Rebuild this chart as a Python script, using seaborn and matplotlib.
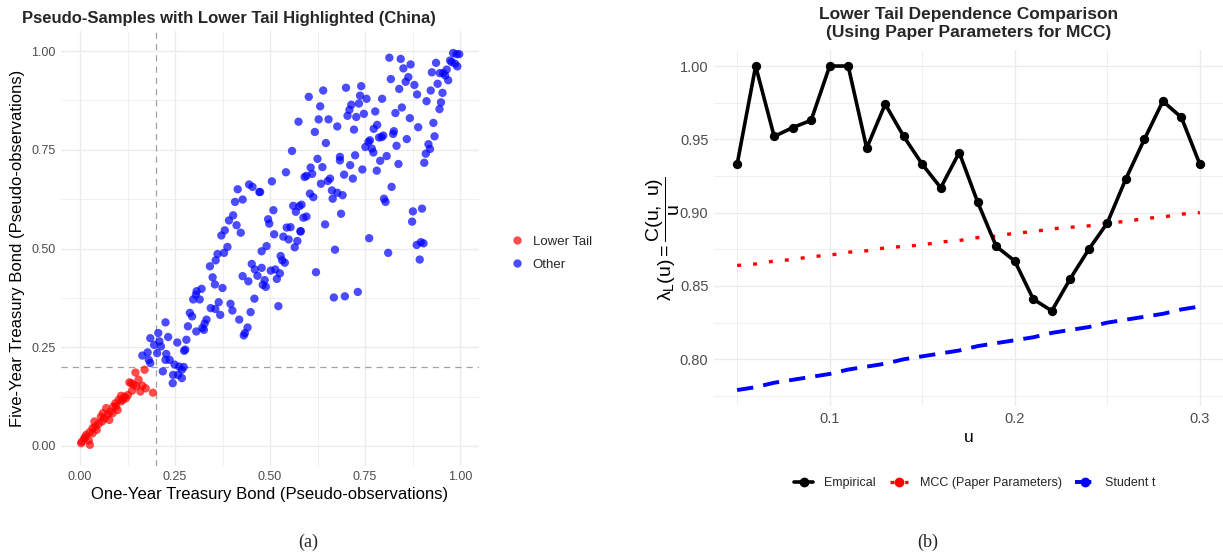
import numpy as np
import pandas as pd
import matplotlib
matplotlib.use("Agg")
import matplotlib.pyplot as plt
import seaborn as sns
from matplotlib.lines import Line2D
from matplotlib.ticker import MultipleLocator, FormatStrFormatter

# ---------------- data: left panel (pseudo-observations) ----------------
# upper band (u > 0.47, v > 0.54)
upper_u = [0.982,0.991,0.998,0.974,0.978,0.993,0.987,0.965,0.956,0.947,0.969,0.961,0.937,0.926,0.941,0.954,0.923,0.950,0.946,0.912,0.930,0.933,0.917,0.921,0.910,0.906,
           0.814,0.844,0.870,0.851,0.864,0.857,0.880,0.818,0.840,0.887,0.847,0.830,0.868,0.890,0.860,0.833,0.838,0.807,0.820,0.800,0.804,0.876,0.900,0.874]
upper_v = [0.995,0.992,0.992,0.976,0.972,0.961,0.968,0.953,0.944,0.944,0.926,0.938,0.970,0.946,0.917,0.894,0.900,0.870,0.853,0.873,0.818,0.784,0.764,0.752,0.740,0.717,
           0.983,0.980,0.966,0.956,0.934,0.922,0.914,0.929,0.904,0.890,0.857,0.843,0.830,0.807,0.777,0.760,0.714,0.734,0.656,0.626,0.618,0.594,0.601,0.568]
mid_u = [0.740,0.737,0.754,0.734,0.714,0.709,0.704,0.727,0.747,0.777,0.795,0.700,0.640,0.602,0.632,0.628,0.654,0.575,0.618,0.677,
         0.721,0.773,0.782,0.794,0.787,0.826,0.824,0.798,0.763,0.759,0.751,0.768,0.772,0.724,0.684,0.684,0.711,0.743,0.781,0.790,
         0.647,0.558,0.625,0.638,0.607,0.611,0.596,0.591,0.542,0.505,0.634,0.658,0.652,0.695,0.718,0.663,0.677,0.691,0.665,0.605,
         0.614,0.474,0.561,0.583,0.577,0.568,0.509,0.495,0.498,0.588,0.596,0.687,0.645,0.544,0.554,0.581]
mid_v = [0.911,0.887,0.879,0.867,0.864,0.851,0.836,0.833,0.841,0.847,0.879,0.907,0.900,0.884,0.860,0.827,0.827,0.821,0.795,0.809,
         0.801,0.803,0.813,0.782,0.781,0.797,0.790,0.786,0.774,0.770,0.757,0.753,0.743,0.736,0.732,0.723,0.711,0.700,0.697,0.722,
         0.767,0.747,0.727,0.706,0.705,0.689,0.684,0.681,0.693,0.670,0.664,0.677,0.671,0.687,0.677,0.647,0.641,0.635,0.626,0.639,
         0.630,0.643,0.608,0.611,0.607,0.593,0.597,0.574,0.563,0.578,0.581,0.588,0.561,0.553,0.554,0.544]
right_u = [0.511,0.535,0.549,0.572,0.580,0.565,0.491,0.478,0.528,0.532,0.539,0.478,0.502,0.514,0.526,0.518,0.486,0.481,0.489,0.522,
           0.621,0.671,0.761,0.811,0.886,0.897,0.904,0.894,0.668,0.697,0.731,
           0.415,0.445,0.454,0.472,0.408,0.428,0.403,0.392,0.412,0.381]
right_v = [0.536,0.530,0.523,0.519,0.543,0.503,0.506,0.493,0.481,0.470,0.464,0.451,0.444,0.447,0.437,0.423,0.420,0.408,0.403,0.354,
           0.440,0.497,0.526,0.489,0.509,0.516,0.513,0.472,0.376,0.379,0.390,
           0.650,0.662,0.656,0.643,0.618,0.624,0.584,0.571,0.559,0.546]
low_u = [0.423,0.372,0.388,0.362,0.379,0.357,0.342,0.452,0.460,0.467,0.428,0.443,0.349,0.355,0.375,0.320,0.307,0.305,0.298,0.315,
         0.459,0.365,0.396,0.401,0.344,0.356,0.369,0.449,0.419,0.289,0.295,0.333,0.328,0.322,0.326,0.284,0.306,0.441,0.434,0.431,
         0.225,0.206,0.185,0.195,0.209,0.213,0.232,0.256,0.280,0.277,0.274,0.164,0.178,0.203,0.227,0.225,0.236,0.249,0.185,0.181,
         0.261,0.273,0.268,0.218,0.245,0.258,0.268,0.244]
low_v = [0.540,0.533,0.504,0.486,0.489,0.470,0.455,0.461,0.447,0.431,0.430,0.417,0.427,0.409,0.400,0.398,0.392,0.383,0.371,0.371,
         0.373,0.364,0.360,0.343,0.349,0.347,0.332,0.339,0.320,0.337,0.328,0.320,0.310,0.299,0.294,0.303,0.290,0.300,0.286,0.280,
         0.313,0.286,0.273,0.256,0.265,0.252,0.276,0.262,0.269,0.244,0.241,0.229,0.237,0.235,0.233,0.218,0.218,0.206,0.210,0.218,
         0.201,0.200,0.193,0.189,0.180,0.180,0.172,0.159]
tail_u = [0.170,0.146,0.154,0.130,0.141,0.164,0.173,0.159,0.192,0.137,0.126,0.117,0.108,0.102,0.093,0.088,0.099,0.079,0.073,0.077,
          0.064,0.058,0.049,0.038,0.033,0.044,0.025,0.016,0.011,0.005,0.003,0.026,0.023,0.069,0.086,0.113,0.121,0.148,0.135,0.055,
          0.040,0.060,0.095,0.108,0.014,0.033]
tail_v = [0.193,0.186,0.168,0.161,0.155,0.153,0.146,0.138,0.135,0.140,0.129,0.125,0.127,0.117,0.108,0.100,0.091,0.087,0.079,0.066,
          0.070,0.062,0.056,0.062,0.045,0.041,0.035,0.028,0.019,0.011,0.007,0.003,0.014,0.096,0.083,0.117,0.121,0.151,0.159,0.074,
          0.049,0.083,0.100,0.113,0.022,0.032]
threshold = 0.2

# ---------------- data: right panel ----------------
u_grid = [0.05,0.06,0.07,0.08,0.09,0.10,0.11,0.12,0.13,0.14,0.15,0.16,0.17,0.18,0.19,0.20,0.21,0.22,0.23,0.24,0.25,0.26,0.27,0.28,0.29,0.30]
empirical = [0.933,1.000,0.952,0.958,0.963,1.000,1.000,0.944,0.974,0.952,0.933,0.917,0.941,0.907,0.877,0.867,0.841,0.833,0.855,0.875,0.893,0.923,0.950,0.976,0.965,0.933]
mcc_paper = [0.864,0.865,0.867,0.868,0.870,0.871,0.873,0.874,0.876,0.877,0.878,0.880,0.881,0.883,0.884,0.886,0.887,0.889,0.890,0.891,0.893,0.894,0.896,0.897,0.899,0.900]
student_t = [0.779,0.781,0.784,0.786,0.788,0.790,0.793,0.795,0.797,0.800,0.802,0.804,0.806,0.809,0.811,0.813,0.815,0.818,0.820,0.822,0.825,0.827,0.829,0.831,0.834,0.836]

other_u = upper_u + mid_u + right_u + low_u
other_v = upper_v + mid_v + right_v + low_v
pts = pd.DataFrame({
    "u": tail_u + other_u,
    "v": tail_v + other_v,
    "group": ["Lower Tail"] * len(tail_u) + ["Other"] * len(other_u),
})
lam = pd.DataFrame({"u": u_grid, "Empirical": empirical,
                    "MCC (Paper Parameters)": mcc_paper, "Student t": student_t})

# ---------------- styling ----------------
sns.set_theme(style="white")
plt.rcParams['font.family'] = ['Liberation Sans', 'DejaVu Sans']
plt.rcParams['mathtext.fontset'] = 'custom'
plt.rcParams['mathtext.rm'] = 'Liberation Sans'
plt.rcParams['mathtext.it'] = 'Liberation Sans'
plt.rcParams['mathtext.bf'] = 'Liberation Sans:bold'

W, H = 1223, 557
fig = plt.figure(figsize=(W / 100, H / 100), dpi=100)

def pos(l, t, r, b):
    return [l / W, 1 - b / H, (r - l) / W, (b - t) / H]

ax1 = fig.add_axes(pos(61, 31.25, 479, 465.75))
ax2 = fig.add_axes(pos(714, 49.9, 1223, 406.2))

GRID = '#EBEBEB'
def style(ax, lsize):
    for s in ax.spines.values():
        s.set_visible(False)
    ax.set_facecolor('white')
    ax.grid(which='major', color=GRID, lw=1.0)
    ax.grid(which='minor', color=GRID, lw=0.55)
    ax.tick_params(which='both', length=0, labelsize=lsize, labelcolor='#4D4D4D', pad=4)
    ax.set_axisbelow(True)

# ---------------- left panel ----------------
sns.scatterplot(data=pts, x="u", y="v", hue="group",
                palette={"Lower Tail": "#FF0000", "Other": "#0000FF"},
                s=36, alpha=0.7, linewidth=0, legend=False, ax=ax1, zorder=3)
ax1.axvline(threshold, color='#A0A0A0', lw=0.9, ls=(0, (5, 4)), zorder=2)
ax1.axhline(threshold, color='#A0A0A0', lw=0.9, ls=(0, (5, 4)), zorder=2)
ax1.set_xlim(-0.05, 1.05)
ax1.set_ylim(-0.05, 1.05)
for axis in (ax1.xaxis, ax1.yaxis):
    axis.set_major_locator(MultipleLocator(0.25))
    axis.set_minor_locator(MultipleLocator(0.125))
    axis.set_major_formatter(FormatStrFormatter('%.2f'))
style(ax1, 9)
ax1.set_xlabel("One-Year Treasury Bond (Pseudo-observations)", fontsize=12, color='black')
ax1.set_ylabel("Five-Year Treasury Bond (Pseudo-observations)", fontsize=12, color='black')
ax1.xaxis.label.set_va('center')
ax1.yaxis.label.set_va('center')
ax1.xaxis.set_label_coords(0.5, -(495 - 465.75) / 434.5)
ax1.yaxis.set_label_coords((18 - 61) / 418, 0.5)

fig.text(22 / W, 1 - 18 / H, "Pseudo-Samples with Lower Tail Highlighted (China)",
         fontsize=12, fontweight='bold', ha='left', va='center')

leg_handles = [Line2D([], [], marker='o', ls='', color='#FF0000', alpha=0.7, markersize=6, markeredgewidth=0),
               Line2D([], [], marker='o', ls='', color='#0000FF', alpha=0.7, markersize=6, markeredgewidth=0)]
fig.legend(leg_handles, ["Lower Tail", "Other"], loc='center left',
           bbox_to_anchor=(497 / W, 1 - 253 / H), frameon=False, fontsize=9.5,
           handlelength=1.2, handletextpad=0.6, labelspacing=0.8)

# ---------------- right panel ----------------
sns.lineplot(data=lam, x="u", y="Empirical", color='black', lw=2.6, ax=ax2, zorder=4)
sns.scatterplot(data=lam, x="u", y="Empirical", color='black', s=45, linewidth=0, ax=ax2, zorder=5)
sns.lineplot(data=lam, x="u", y="MCC (Paper Parameters)", color='#FF0000', lw=2.4,
             linestyle=(0, (1.2, 3.6)), ax=ax2, zorder=3)
sns.lineplot(data=lam, x="u", y="Student t", color='#0000FF', lw=2.8,
             linestyle=(0, (4.2, 2.6)), ax=ax2, zorder=3)
ax2.set_xlim(0.0375, 0.3125)
ax2.set_ylim(0.768, 1.011)
ax2.xaxis.set_major_locator(MultipleLocator(0.1))
ax2.xaxis.set_minor_locator(MultipleLocator(0.05))
ax2.xaxis.set_major_formatter(FormatStrFormatter('%.1f'))
ax2.yaxis.set_major_locator(MultipleLocator(0.05))
ax2.yaxis.set_minor_locator(MultipleLocator(0.025))
ax2.yaxis.set_major_formatter(FormatStrFormatter('%.2f'))
style(ax2, 10.5)
ax2.set_xlabel("u", fontsize=12.5, color='black')
ax2.set_ylabel(r"$\lambda_{\mathrm{L}}(u) = \dfrac{C(u,\ u)}{u}$", fontsize=14, color='black')
ax2.xaxis.label.set_va('center')
ax2.yaxis.label.set_va('center')
ax2.xaxis.set_label_coords(0.5, -(437 - 406.2) / 356.3)
ax2.yaxis.set_label_coords((663 - 714) / 509, 0.47)

fig.text(968.5 / W, 1 - 23.5 / H,
         "Lower Tail Dependence Comparison\n(Using Paper Parameters for MCC)",
         fontsize=12.5, fontweight='bold', ha='center', va='center', linespacing=1.2)

r_handles = [Line2D([], [], color='black', lw=2.6, marker='o', markersize=6),
             Line2D([], [], color='#FF0000', lw=2.4, ls=(0, (1.2, 1.0)), marker='o', markersize=6),
             Line2D([], [], color='#0000FF', lw=2.8, ls=(0, (4.2, 2.6)), marker='o', markersize=6)]
fig.legend(r_handles, ["Empirical", "MCC (Paper Parameters)", "Student t"], loc='center',
           bbox_to_anchor=(975 / W, 1 - 483 / H), ncol=3, frameon=False, fontsize=9,
           handlelength=1.5, handletextpad=0.9, columnspacing=1.1)

fig.text(308 / W, 1 - 542 / H, "(a)", family=['Liberation Serif', 'DejaVu Serif'],
         fontsize=13, ha='center', va='center')
fig.text(928 / W, 1 - 542 / H, "(b)", family=['Liberation Serif', 'DejaVu Serif'],
         fontsize=13, ha='center', va='center')

fig.savefig("out.png", dpi=100)
